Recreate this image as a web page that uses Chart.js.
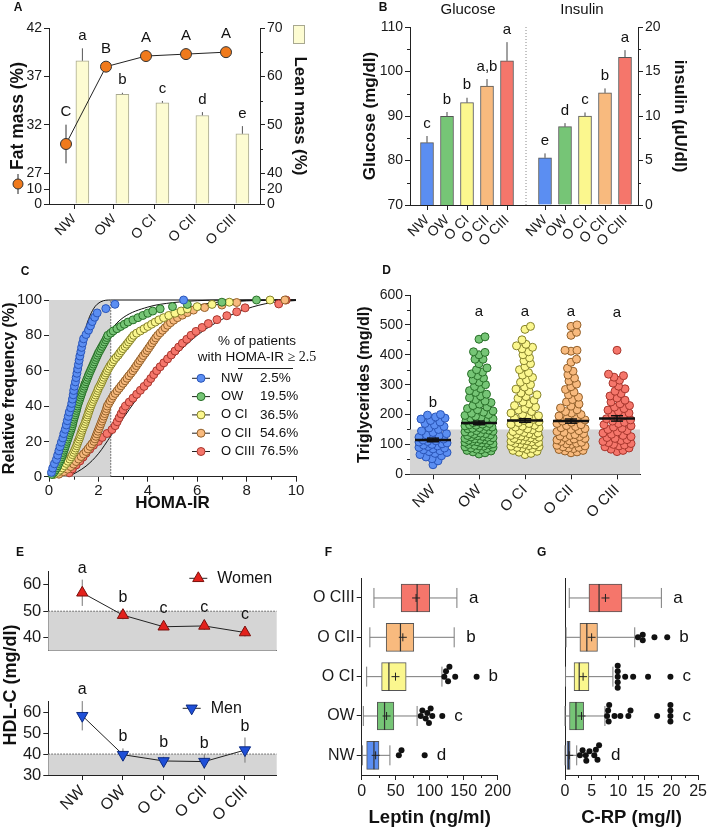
<!DOCTYPE html>
<html>
<head>
<meta charset="utf-8">
<script src="https://cdn.jsdelivr.net/npm/chart.js@4.4.1/dist/chart.umd.min.js"></script>
<style>
  body { margin: 0; background: #fff; width: 709px; height: 830px; position: relative; overflow: hidden; }
  canvas { position: absolute; }
</style>
</head>
<body>
<canvas id="cA"></canvas><canvas id="cB"></canvas><canvas id="cC"></canvas><canvas id="cD"></canvas>
<canvas id="cE1"></canvas><canvas id="cE2"></canvas><canvas id="cF"></canvas><canvas id="cG"></canvas>
<script>
const groups = ['NW', 'OW', 'O CI', 'O CII', 'O CIII'];

// A - body composition
const fatMass = [30.0, 38.0, 39.1, 39.3, 39.5];
const fatMassErr = [2.0, 0.3, 0.3, 0.3, 0.3];
const fatMassLetters = ['C', 'B', 'A', 'A', 'A'];
const leanMass = [63.2, 56.3, 54.5, 51.9, 48.1];
const leanMassErr = [2.6, 0.3, 0.4, 0.7, 1.6];
const leanMassLetters = ['a', 'b', 'c', 'd', 'e'];
const fatTicks = [0, 10, 27, 32, 37, 42];
const leanTicks = [0, 20, 40, 50, 60, 70];

// B - glucose / insulin
const glucose = [84.0, 89.9, 93.0, 96.7, 102.4];
const glucoseErr = [1.5, 1.0, 1.1, 1.6, 4.2];
const glucoseLetters = ['c', 'b', 'b', 'a,b', 'a'];
const insulin = [5.3, 8.8, 10.0, 12.6, 16.6];
const insulinErr = [0.5, 0.4, 0.4, 0.5, 0.8];
const insulinLetters = ['e', 'd', 'c', 'b', 'a'];

// C - HOMA-IR, sorted values per group
const homaNW = [0.1,0.15,0.22,0.3,0.35,0.4,0.45,0.5,0.56,0.6,0.66,0.7,0.74,0.78,0.82,0.88,0.92,0.95,0.98,1.0,1.03,1.07,1.1,1.13,1.16,1.19,1.22,1.25,1.29,1.32,1.36,1.4,1.5,1.6,1.68,1.75,1.85,1.95,2.3,2.67,5.45];
const homaOW = [0.12,0.2,0.26,0.32,0.36,0.4,0.44,0.48,0.52,0.55,0.58,0.61,0.64,0.67,0.7,0.73,0.76,0.79,0.82,0.85,0.88,0.91,0.94,0.96,0.98,1.0,1.03,1.06,1.08,1.11,1.13,1.15,1.18,1.21,1.24,1.27,1.3,1.33,1.36,1.4,1.43,1.46,1.5,1.53,1.57,1.6,1.64,1.68,1.72,1.76,1.8,1.84,1.88,1.92,1.96,2.0,2.05,2.1,2.15,2.2,2.25,2.3,2.34,2.38,2.5,2.6,2.75,2.9,3.05,3.2,3.4,3.6,3.8,4.0,4.2,4.5,5.0,5.6,7.0,8.4];
const homaOCI = [0.2,0.35,0.45,0.54,0.62,0.7,0.77,0.84,0.9,0.95,1.0,1.04,1.08,1.12,1.15,1.18,1.22,1.25,1.28,1.31,1.34,1.37,1.41,1.45,1.48,1.51,1.54,1.57,1.6,1.63,1.66,1.69,1.73,1.77,1.81,1.85,1.89,1.93,1.97,2.0,2.05,2.1,2.14,2.18,2.22,2.27,2.31,2.36,2.41,2.46,2.52,2.58,2.64,2.72,2.8,2.86,2.93,3.0,3.08,3.15,3.22,3.29,3.36,3.43,3.55,3.7,3.85,4.0,4.15,4.3,4.45,4.64,4.85,5.1,5.35,5.6,6.0,6.6,7.3,8.95];
const homaOCII = [0.4,0.6,0.75,0.88,1.0,1.1,1.2,1.3,1.4,1.5,1.58,1.66,1.74,1.82,1.86,1.9,1.94,1.98,2.02,2.06,2.1,2.14,2.18,2.22,2.26,2.3,2.33,2.36,2.42,2.48,2.54,2.6,2.68,2.76,2.84,2.92,3.0,3.08,3.16,3.24,3.32,3.4,3.47,3.54,3.61,3.68,3.75,3.82,3.9,3.97,4.04,4.11,4.18,4.25,4.32,4.4,4.5,4.6,4.7,4.8,4.92,5.05,5.2,5.4,5.6,5.85,6.3,7.0,7.6,9.55];
const homaOCIII = [0.82,0.95,1.1,1.25,1.38,1.5,1.65,1.8,2.0,2.15,2.35,2.55,2.68,2.76,2.84,2.92,3.0,3.1,3.25,3.4,3.55,3.7,3.85,4.0,4.12,4.24,4.36,4.5,4.65,4.8,4.95,5.1,5.25,5.4,5.58,5.75,5.95,6.2,6.45,6.8,7.2,7.6,7.94,9.3,9.6];
const fitNW = [[0,0],[0.3,8],[0.6,25],[0.9,45],[1.2,68],[1.5,85],[1.8,95],[2.1,99],[2.5,100],[10,100]];
const fitOW = [[0,0],[0.5,10],[1,33],[1.5,55],[2,72],[2.5,83],[3,90],[4,96],[5,98.5],[6,99.6],[7,100],[10,100]];
const fitOCI = [[0,0],[0.5,5],[1,17],[1.5,33],[2,50],[2.5,63],[3,73],[4,86],[5,93],[6,97],[7,99],[8,99.8],[10,100]];
const fitOCII = [[0,0],[1,6],[1.5,14],[2,27],[2.5,40],[3,52],[3.5,63],[4,72],[5,86],[6,94],[7,98],[8,99.5],[10,100]];
const fitOCIII = [[0.8,0],[1.5,6],[2,13],[2.5,23],[3,33],[3.5,43],[4,52],[5,67],[6,80],[7,89],[8,95],[9,98.5],[10,99.7]];
const homaCut = 2.5;
const homaPct = ['2.5%', '19.5%', '36.5%', '54.6%', '76.5%'];

// D - triglycerides
const trigNW = [32,45,52,58,62,66,70,73,76,79,82,85,88,90,93,95,98,100,102,105,108,110,112,115,118,120,124,128,132,136,140,145,150,155,160,165,170,175,180,185,188,192,198,200];
const trigOW = [68,72,75,78,80,82,84,86,88,90,92,94,95,97,99,100,102,104,105,107,109,110,112,114,115,117,119,120,122,124,125,127,129,130,132,134,136,138,140,142,144,146,148,150,152,154,156,158,160,162,164,166,168,170,173,176,179,182,185,188,191,194,197,200,204,208,212,216,220,225,230,235,240,245,250,256,262,268,274,280,287,294,300,308,315,322,330,336,342,350,356,370,385,385,400,408,410,452,460];
const trigOCI = [66,70,74,77,80,83,86,88,90,92,94,96,98,100,102,104,106,108,110,112,114,116,118,120,122,124,126,128,130,132,134,136,138,140,143,146,149,152,155,158,161,164,167,170,173,176,180,184,188,192,196,200,205,210,215,220,225,230,236,242,248,254,260,266,272,278,285,292,300,308,316,324,332,340,350,360,370,380,390,400,410,420,425,430,435,450,485,495];
const trigOCII = [72,75,78,80,83,86,88,90,92,95,97,100,102,104,107,110,112,115,118,120,123,126,128,130,133,136,140,143,146,150,153,156,160,163,166,170,174,178,182,186,190,195,200,205,210,216,222,228,235,242,250,258,266,275,284,293,302,312,322,332,345,355,375,385,412,415,415,465,475,495,500];
const trigOCIII = [76,80,84,88,92,95,98,100,103,106,110,113,116,120,123,126,130,134,138,142,146,150,154,158,162,166,170,174,178,182,186,190,195,200,205,210,215,220,225,230,236,242,248,255,262,270,278,286,295,305,315,325,330,335,415];
const trigMean = [115, 172, 180, 178, 187];
const trigSem = [6, 6, 6, 7, 9];
const trigLetters = ['b', 'a', 'a', 'a', 'a'];
const trigCut = 150;

// E - HDL-C
const hdlWomen = [57.0, 48.5, 44.1, 44.4, 41.9];
const hdlWomenErr = [5.0, 1.6, 1.2, 1.5, 1.5];
const hdlWomenLetters = ['a', 'b', 'c', 'c', 'c'];
const hdlMen = [58.3, 39.7, 36.7, 36.4, 41.9];
const hdlMenErr = [7.0, 3.0, 2.0, 3.5, 6.0];
const hdlMenLetters = ['a', 'b', 'b', 'b', 'b'];
const womenCut = 50, menCut = 40;

// F - leptin box plots (NW .. O CIII)
const leptinMin = [1, 2.4, 7.3, 12, 18];
const leptinQ1 = [7.3, 23, 29.3, 36, 58];
const leptinMed = [18, 33.6, 40, 57, 81.5];
const leptinQ3 = [25.4, 47.3, 65.4, 76.6, 100];
const leptinMax = [41.5, 81.5, 118, 136, 140];
const leptinMean = [20.5, 36.6, 49.7, 60.5, 80];
const leptinOut = [[54.6, 58.5, 92.6], [86.8, 89.2, 94.1, 96.5, 98.9, 101.4, 103.8, 118.5], [121.5, 124, 127, 129, 137.5, 169], [], []];
const leptinLetters = ['d', 'c', 'b', 'b', 'a'];

// G - C-RP box plots
const crpMin = [0, 0, 0.1, 0.2, 0.8];
const crpQ1 = [0.36, 0.85, 1.7, 2.8, 4.5];
const crpMed = [0.67, 2.06, 2.67, 4.1, 6.4];
const crpQ3 = [0.97, 3.5, 4.5, 6.1, 10.7];
const crpMax = [2.2, 7.5, 9.0, 13.1, 18.1];
const crpMean = [0.8, 3.1, 3.4, 5.0, 7.6];
const crpOut = [[2.8, 3.3, 3.9, 4.0, 4.6, 5.5, 5.8, 6.1, 6.4], [7.9, 8.1, 8.2, 8.3, 9.3, 10.4, 11.9, 12.3, 17.3, 19.8, 19.8, 19.8, 19.8], [9.9, 9.9, 9.9, 9.9, 9.9, 11.3, 12.8, 15.6, 19.8], [13.7, 14.6, 14.6, 16.8, 19.2], []];
const crpLetters = ['d', 'c', 'c', 'b', 'a'];

// ---------- styling / helpers ----------
const fill = ['#5b8ef2', '#76c576', '#fbf78e', '#f8ba7e', '#f5766b'];
const edge = ['#2a55b8', '#286f28', '#85812a', '#93602a', '#a8362d'];
const FONT = '"Liberation Sans", Arial, Helvetica, sans-serif';
Chart.defaults.font.family = FONT;
Chart.defaults.color = '#1a1a1a';

// y axis with a gap (broken axis) for panel A
class BrokenScale extends Chart.LinearScale {
  getPixelForValue(v) {
    const b = this.options.brk;
    const lowTop = this.bottom - b.lowPx, highBot = lowTop - b.gapPx;
    if (v <= b.low) return this.bottom - v / b.low * b.lowPx;
    if (v >= b.high) return highBot - (v - b.high) / (this.max - b.high) * (highBot - this.top);
    return lowTop - (v - b.low) / (b.high - b.low) * b.gapPx;
  }
  getValueForPixel(p) {
    const b = this.options.brk;
    const lowTop = this.bottom - b.lowPx, highBot = lowTop - b.gapPx;
    if (p >= lowTop) return (this.bottom - p) / b.lowPx * b.low;
    if (p <= highBot) return b.high + (highBot - p) / (highBot - this.top) * (this.max - b.high);
    return b.low + (lowTop - p) / b.gapPx * (b.high - b.low);
  }
}
BrokenScale.id = 'broken';
BrokenScale.defaults = Chart.LinearScale.defaults;
Chart.register(BrokenScale);

function place(id, l, t, w, h) {
  const c = document.getElementById(id);
  c.width = w; c.height = h;
  c.style.left = l + 'px'; c.style.top = t + 'px';
  return c;
}
const grid = { display: true, drawOnChartArea: false, drawTicks: true, tickLength: 5, tickColor: '#222', tickWidth: 1, offset: false };
const noTickGrid = Object.assign({}, grid, { drawTicks: false });
const border = { display: true, color: '#222', width: 1 };
const ticks = (size, extra) => Object.assign({ color: '#1a1a1a', font: { size }, padding: 2 }, extra || {});
const catTicks = (size, labels) => ticks(size, { autoSkip: false, maxRotation: 45, minRotation: 45, callback: (v, i) => labels[i] });
const fixSize = px => s => { if (s.isHorizontal()) s.height = px; else s.width = px; };
const tickAt = vals => s => { s.ticks = vals.map(v => ({ value: v })); };
const title = (text, size, pad) => ({ display: true, text, color: '#111', font: { size, weight: 'bold' }, padding: { top: pad, bottom: pad } });

function opts(padding, scales) {
  return {
    responsive: false, animation: false, events: [],
    layout: { padding, autoPadding: false },
    plugins: { legend: { display: false }, tooltip: { enabled: false } },
    scales
  };
}

function txt(ctx, s, x, y, size, o = {}) {
  ctx.save();
  ctx.font = (o.bold ? 'bold ' : '') + size + 'px ' + (o.family || FONT);
  ctx.fillStyle = o.color || '#111';
  ctx.textAlign = o.align || 'center';
  ctx.textBaseline = o.base || 'middle';
  if (o.rot) { ctx.translate(x, y); ctx.rotate(o.rot); ctx.fillText(s, 0, 0); }
  else ctx.fillText(s, x, y);
  ctx.restore();
}
function line(ctx, x1, y1, x2, y2, color = '#222', w = 1, dash) {
  ctx.save();
  ctx.strokeStyle = color; ctx.lineWidth = w;
  if (dash) ctx.setLineDash(dash);
  ctx.beginPath(); ctx.moveTo(x1, y1); ctx.lineTo(x2, y2); ctx.stroke();
  ctx.restore();
}
function errBars(c, di, errs, both, color) {
  const meta = c.getDatasetMeta(di), ds = c.data.datasets[di], ys = c.scales[meta.yAxisID];
  meta.data.forEach((el, i) => {
    const v = ds.data[i].y;
    const top = ys.getPixelForValue(v + errs[i]);
    const bot = both ? ys.getPixelForValue(v - errs[i]) : el.y;
    line(c.ctx, el.x, top, el.x, bot, color);
  });
}
function letters(c, di, errs, labels, size, gap, markR) {
  const meta = c.getDatasetMeta(di), ds = c.data.datasets[di], ys = c.scales[meta.yAxisID];
  meta.data.forEach((el, i) => {
    const top = Math.min(ys.getPixelForValue(ds.data[i].y + errs[i]), el.y - markR) - gap;
    txt(c.ctx, labels[i], el.x, top, size, { base: 'bottom' });
  });
}
const minor = specs => ({
  id: 'minor',
  afterDraw(c) {
    specs.forEach(([id, step, from, to]) => {
      const s = c.scales[id];
      const lo = from !== undefined ? from : s.min, hi = to !== undefined ? to : s.max;
      for (let k = Math.ceil(lo / step - 1e-9); k * step <= hi + 1e-9; k++) {
        const v = k * step;
        if (s.ticks.some(t => Math.abs(t.value - v) < 1e-6)) continue;
        const p = Math.round(s.getPixelForValue(v)) + 0.5;
        if (s.isHorizontal()) line(c.ctx, p, s.top, p, s.top + 3);
        else if (s.position === 'left') line(c.ctx, s.right, p, s.right - 3, p);
        else line(c.ctx, s.left, p, s.left + 3, p);
      }
    });
  }
});
const tag = (s, x, y) => ({ id: 'tag', afterDraw(c) { txt(c.ctx, s, x, y, 12, { bold: true }); } });

// spread overlapping points sideways (layout only, values untouched)
function swarmOffsets(vals, pxPerVal, minDist, maxHalf) {
  const placed = [];
  return vals.map(v => {
    const y = v * pxPerVal;
    let best = 0, bestGap = -1, found = false;
    for (let s = 0; s <= maxHalf && !found; s += 0.5) {
      for (const x of (s === 0 ? [0] : [s, -s])) {
        let gap = Infinity;
        for (const p of placed) {
          if (Math.abs(p.y - y) < minDist) gap = Math.min(gap, Math.hypot(p.x - x, p.y - y));
        }
        if (gap >= minDist) { best = x; found = true; break; }
        if (gap > bestGap) { bestGap = gap; best = x; }
      }
    }
    placed.push({ x: best, y });
    return best;
  });
}

// ---------- A ----------
const A_LINE_SHIFT = -0.2, A_BAR_SHIFT = 0.21;
new Chart(place('cA', 0, 0, 330, 245), {
  type: 'scatter',
  data: { datasets: [
    { type: 'line', yAxisID: 'yL', order: 0, clip: false,
      data: fatMass.map((v, i) => ({ x: i + A_LINE_SHIFT, y: v })),
      borderColor: '#222', borderWidth: 1, pointRadius: 5.5,
      pointBackgroundColor: '#f07a1c', pointBorderColor: '#333', pointBorderWidth: 1 },
    { type: 'bar', yAxisID: 'yR', order: 1, grouped: false,
      data: leanMass.map((v, i) => ({ x: i + A_BAR_SHIFT, y: v })),
      backgroundColor: '#fdfcd2', borderColor: '#a8a890', borderWidth: 1, barThickness: 13 }
  ] },
  options: opts({ top: 28, left: 0, right: 0, bottom: 0 }, {
    x: { type: 'linear', min: -0.625, max: 4.65, offset: false, afterBuildTicks: tickAt([0, 1, 2, 3, 4]),
         afterFit: fixSize(41), grid, border, ticks: catTicks(14, groups) },
    yL: { type: 'broken', position: 'left', min: 0, max: 42, brk: { low: 10, high: 27, lowPx: 15, gapPx: 16 },
          afterBuildTicks: tickAt(fatTicks), afterFit: fixSize(49), grid, border, ticks: ticks(14),
          title: title('Fat mass (%)', 17.5, 7.5) },
    yR: { type: 'broken', position: 'right', min: 0, max: 70, brk: { low: 20, high: 40, lowPx: 15, gapPx: 16 },
          afterBuildTicks: tickAt(leanTicks), afterFit: fixSize(70), grid, border, ticks: ticks(14),
          title: title('Lean mass (%)', 17, 19.8) }
  }),
  plugins: [minor([['yR', 5, 40, 70]]), tag('A', 18, 8), {
    id: 'aExtra',
    beforeDatasetsDraw(c) {
      errBars(c, 0, fatMassErr, true, '#333');
      errBars(c, 1, leanMassErr, false, '#555');
    },
    afterDatasetsDraw(c) {
      letters(c, 0, fatMassErr, fatMassLetters, 15, 5, 5.5);
      letters(c, 1, leanMassErr, leanMassLetters, 15, 5, 0);
    },
    afterDraw(c) {
      const ctx = c.ctx;
      ctx.save();
      ctx.fillStyle = '#fdfcd2'; ctx.strokeStyle = '#a8a890';
      ctx.fillRect(293, 25, 11, 18); ctx.strokeRect(293.5, 25.5, 11, 18);
      line(ctx, 18, 174, 18, 194, '#222');
      ctx.beginPath(); ctx.arc(18, 184, 5, 0, Math.PI * 2);
      ctx.fillStyle = '#f07a1c'; ctx.fill(); ctx.strokeStyle = '#333'; ctx.stroke();
      ctx.restore();
    }
  }]
});

// ---------- B ----------
const B_INS_START = 5.9;
const bPositions = groups.map((g, i) => i).concat(groups.map((g, i) => B_INS_START + i));
new Chart(place('cB', 340, 0, 369, 245), {
  type: 'scatter',
  data: { datasets: [
    { type: 'bar', yAxisID: 'yL', grouped: false, data: glucose.map((v, i) => ({ x: i, y: v })),
      backgroundColor: fill, borderColor: '#555', borderWidth: 1, barThickness: 13 },
    { type: 'bar', yAxisID: 'yR', grouped: false, data: insulin.map((v, i) => ({ x: B_INS_START + i, y: v })),
      backgroundColor: fill, borderColor: '#555', borderWidth: 1, barThickness: 13 }
  ] },
  options: opts({ top: 27, left: 0, right: 0, bottom: 0 }, {
    x: { type: 'linear', min: -0.85, max: 10.55, offset: false, afterBuildTicks: tickAt(bPositions),
         afterFit: fixSize(40), grid, border, ticks: catTicks(14, groups.concat(groups)) },
    yL: { type: 'linear', position: 'left', min: 70, max: 110, afterBuildTicks: tickAt([70, 80, 90, 100, 110]),
          afterFit: fixSize(70), grid, border, ticks: ticks(14), title: title('Glucose (mg/dl)', 17, 19.8) },
    yR: { type: 'linear', position: 'right', min: 0, max: 20, afterBuildTicks: tickAt([0, 5, 10, 15, 20]),
          afterFit: fixSize(71), grid, border, ticks: ticks(14), title: title('insulin (µU/dl)', 17, 18.8) }
  }),
  plugins: [minor([['yL', 5], ['yR', 2.5]]), tag('B', 43, 8), {
    id: 'bExtra',
    beforeDatasetsDraw(c) {
      errBars(c, 0, glucoseErr, false, '#444');
      errBars(c, 1, insulinErr, false, '#444');
    },
    afterDatasetsDraw(c) {
      letters(c, 0, glucoseErr, glucoseLetters, 15, 5, 0);
      letters(c, 1, insulinErr, insulinLetters, 15, 5, 0);
    },
    afterDraw(c) {
      const xs = c.scales.x, a = c.chartArea;
      const sep = (xs.getPixelForValue(glucose.length - 1) + xs.getPixelForValue(B_INS_START)) / 2;
      line(c.ctx, sep, a.top, sep, a.bottom, '#888', 1, [1, 2]);
      txt(c.ctx, 'Glucose', (a.left + sep) / 2, 10, 15);
      txt(c.ctx, 'Insulin', (sep + a.right) / 2, 10, 15);
    }
  }]
});

// ---------- C ----------
const homa = [homaNW, homaOW, homaOCI, homaOCII, homaOCIII];
const fits = [fitNW, fitOW, fitOCI, fitOCII, fitOCIII];
new Chart(place('cC', 0, 250, 345, 270), {
  type: 'scatter',
  data: { datasets: homa.map((vals, k) => ({
      type: 'scatter', order: 0, clip: false,
      data: vals.map((v, i) => ({ x: v, y: (i + 1) / vals.length * 100 })),
      pointRadius: 4, backgroundColor: fill[k], borderColor: edge[k], borderWidth: 1
    })).concat(fits.map(f => ({
      type: 'line', order: 1, clip: false, data: f.map(([x, y]) => ({ x, y })),
      borderColor: '#111', borderWidth: 1, pointRadius: 0, cubicInterpolationMode: 'monotone', fill: false
    }))) },
  options: opts({ top: 50, left: 0, right: 49, bottom: 0 }, {
    x: { type: 'linear', min: 0, max: 10, offset: false, afterFit: fixSize(43.3), grid, border,
         ticks: ticks(15, { stepSize: 2, padding: 0 }), title: title('HOMA-IR', 17, 6.8) },
    y: { type: 'linear', min: 0, max: 100, afterFit: fixSize(49), grid, border,
         ticks: ticks(15, { stepSize: 20 }), title: title('Relative frequency (%)', 16, 0) }
  }),
  plugins: [minor([['x', 1]]), tag('C', 25, 22), {
    id: 'cExtra',
    beforeDatasetsDraw(c) {
      const xs = c.scales.x, ys = c.scales.y, ctx = c.ctx;
      const x0 = xs.getPixelForValue(0), x1 = xs.getPixelForValue(homaCut);
      const y0 = ys.getPixelForValue(0), y1 = ys.getPixelForValue(100);
      ctx.save(); ctx.fillStyle = '#d5d5d5'; ctx.fillRect(x0, y1, x1 - x0, y0 - y1); ctx.restore();
      line(ctx, x1, y0, x1, y1, '#555', 1, [1.5, 1.5]);
    },
    afterDraw(c) {
      const ctx = c.ctx;
      txt(ctx, '% of patients', 257, 91, 13.5);
      ctx.save();
      ctx.font = '13.5px ' + FONT;
      const w1 = ctx.measureText('with HOMA-IR ').width;
      ctx.font = '14px "Liberation Serif", "Times New Roman", serif';
      const w2 = ctx.measureText('≥ 2.5').width;
      ctx.restore();
      const sx = 257 - (w1 + w2) / 2;
      txt(ctx, 'with HOMA-IR ', sx, 107, 13.5, { align: 'left' });
      txt(ctx, '≥ 2.5', sx + w1, 107, 14, { align: 'left', family: '"Liberation Serif", "Times New Roman", serif' });
      line(ctx, 238, 118.5, 293, 118.5, '#222');
      groups.forEach((g, k) => {
        const y = 128.3 + k * 18.3;
        line(ctx, 192, y, 210, y, '#222');
        ctx.save(); ctx.beginPath(); ctx.arc(201, y, 4, 0, Math.PI * 2);
        ctx.fillStyle = fill[k]; ctx.fill(); ctx.strokeStyle = edge[k]; ctx.lineWidth = 1; ctx.stroke(); ctx.restore();
        txt(ctx, g, 221, y, 13, { align: 'left' });
        txt(ctx, homaPct[k], 260, y, 13.5, { align: 'left' });
      });
    }
  }]
});

// ---------- D ----------
const trig = [trigNW, trigOW, trigOCI, trigOCII, trigOCIII];
const D_PX_PER_CAT = 46, D_PX_PER_MG = 179.3 / 600;
const trigLetterAt = [240, 545, 545, 545, 540];
new Chart(place('cD', 340, 250, 369, 290), {
  type: 'scatter',
  data: { datasets: trig.map((vals, k) => {
    const offs = swarmOffsets(vals, D_PX_PER_MG, 6, 14);
    return { type: 'scatter', clip: false, data: vals.map((v, i) => ({ x: k + offs[i] / D_PX_PER_CAT, y: v })),
      pointRadius: 4, backgroundColor: fill[k], borderColor: edge[k], borderWidth: 1 };
  }) },
  options: opts({ top: 45, left: 0, right: 69, bottom: 0 }, {
    x: { type: 'linear', min: -0.5, max: 4.5, offset: false, afterBuildTicks: tickAt([0, 1, 2, 3, 4]),
         afterFit: fixSize(65.7), grid, border, ticks: catTicks(15, groups) },
    y: { type: 'linear', min: 0, max: 600, afterFit: fixSize(70), grid, border,
         ticks: ticks(14, { stepSize: 100 }), title: title('Triglycerides (mg/dl)', 16, 15.4) }
  }),
  plugins: [minor([['y', 50]]), tag('D', 46.7, 20.7), {
    id: 'dExtra',
    beforeDatasetsDraw(c) {
      const ys = c.scales.y, a = c.chartArea;
      const top = ys.getPixelForValue(trigCut);
      c.ctx.save(); c.ctx.fillStyle = '#d5d5d5'; c.ctx.fillRect(a.left, top, a.right - a.left, a.bottom - top); c.ctx.restore();
    },
    afterDatasetsDraw(c) {
      const xs = c.scales.x, ys = c.scales.y, ctx = c.ctx;
      trigMean.forEach((m, i) => {
        const x = xs.getPixelForValue(i), y = ys.getPixelForValue(m);
        const t = ys.getPixelForValue(m + trigSem[i]), b = ys.getPixelForValue(m - trigSem[i]);
        line(ctx, x - 18, y, x + 18, y, '#111', 2.5);
        line(ctx, x, t, x, b, '#111', 1.5);
        line(ctx, x - 6, t, x + 6, t, '#111', 1.5);
        line(ctx, x - 6, b, x + 6, b, '#111', 1.5);
        txt(ctx, trigLetters[i], x, ys.getPixelForValue(trigLetterAt[i]), 15);
      });
    }
  }]
});

// ---------- E ----------
function hdlChart(id, top, h, vals, errs, labs, cut, yMin, yTicks, color, edgeColor, rot, bottomH, showCats, legendText, legendY, extra) {
  return new Chart(place(id, 0, top, 290, h), {
    type: 'scatter',
    data: { datasets: [{
      type: 'line', clip: false, data: vals.map((v, i) => ({ x: i, y: v })),
      borderColor: '#222', borderWidth: 1, pointStyle: 'triangle', pointRotation: rot, pointRadius: 6.5,
      pointBackgroundColor: color, pointBorderColor: edgeColor, pointBorderWidth: 1
    }] },
    options: opts({ top: legendY - 6.6, left: 0, right: 13.3, bottom: 0 }, {
      x: { type: 'linear', min: -0.835, max: 4.78, offset: false, afterBuildTicks: tickAt([0, 1, 2, 3, 4]),
           afterFit: fixSize(bottomH), grid: showCats ? grid : noTickGrid, border,
           ticks: showCats ? catTicks(16, groups) : { display: false } },
      y: { type: 'linear', min: yMin, max: 65, afterBuildTicks: tickAt(yTicks), afterFit: fixSize(48.3),
           grid, border, ticks: ticks(16.5) }
    }),
    plugins: [{
      id: 'eExtra',
      beforeDatasetsDraw(c) {
        const ys = c.scales.y, a = c.chartArea, ctx = c.ctx;
        const yc = ys.getPixelForValue(cut);
        ctx.save(); ctx.fillStyle = '#d5d5d5'; ctx.fillRect(a.left, yc, a.right - a.left, a.bottom - yc); ctx.restore();
        line(ctx, a.left, yc, a.right, yc, '#555', 1, [1.5, 1.5]);
        errBars(c, 0, errs, true, '#777');
      },
      afterDatasetsDraw(c) {
        letters(c, 0, errs, labs, 16, 3, 7);
        const ctx = c.ctx, lx = legendText === 'Women' ? 198.3 : 191.7;
        line(ctx, lx - 9, legendY, lx + 9, legendY, '#222');
        ctx.save(); ctx.translate(lx, legendY); ctx.rotate(rot * Math.PI / 180);
        ctx.beginPath(); ctx.moveTo(0, -6.5); ctx.lineTo(5.6, 3.25); ctx.lineTo(-5.6, 3.25); ctx.closePath();
        ctx.fillStyle = color; ctx.fill(); ctx.strokeStyle = edgeColor; ctx.stroke(); ctx.restore();
        txt(ctx, legendText, lx + 19, legendY, 16, { align: 'left' });
        if (extra) extra(c);
      }
    }]
  });
}
hdlChart('cE1', 540, 290, hdlWomen, hdlWomenErr, hdlWomenLetters, womenCut, 35, [40, 50, 60],
  '#e3211c', '#7a100c', 0, 179.3, false, 'Women', 38.3, c => {
    txt(c.ctx, 'E', 20, 13, 12, { bold: true });
    txt(c.ctx, 'HDL-C (mg/dl)', 11, 145, 18, { bold: true, rot: -Math.PI / 2 });
  });
hdlChart('cE2', 665, 165, hdlMen, hdlMenErr, hdlMenLetters, menCut, 30, [30, 40, 50, 60],
  '#1e4fd8', '#0c2a80', 180, 55, true, 'Men', 43.3, null);

// ---------- F / G ----------
const ROW_PX = 196.7 / 5;
function boxPanel(o) {
  const pts = [];
  o.out.forEach((vals, i) => {
    const sorted = vals.slice().sort((a, b) => a - b);
    const offs = swarmOffsets(sorted, o.pxPerUnit, 5.5, 12);
    sorted.forEach((v, j) => pts.push({ x: v, y: i + offs[j] / ROW_PX }));
  });
  return new Chart(place(o.id, o.l, 540, o.w, 290), {
    type: 'scatter',
    data: { datasets: [
      { type: 'bar', indexAxis: 'y', grouped: false, order: 1,
        data: o.q1.map((q, i) => ({ y: i, x: [q, o.q3[i]] })),
        backgroundColor: fill, borderColor: '#555', borderWidth: 1, borderSkipped: false, barThickness: 28 },
      { type: 'scatter', order: 0, clip: false, data: pts, pointRadius: 3, backgroundColor: '#111', borderWidth: 0 }
    ] },
    options: opts({ top: 38.3, left: 0, right: o.padR, bottom: 0 }, {
      x: { type: 'linear', min: 0, max: o.max, offset: false, afterFit: fixSize(55), grid, border,
           ticks: ticks(16, { stepSize: o.step }), title: title(o.title, 18.5, 0.9) },
      y: { type: 'linear', min: -0.5, max: 4.5, offset: false, afterBuildTicks: tickAt([0, 1, 2, 3, 4]),
           afterFit: fixSize(o.yWidth), grid: o.showCats ? grid : noTickGrid, border,
           ticks: o.showCats ? ticks(16, { callback: (v, i) => groups[i] }) : { display: false } }
    }),
    plugins: [minor([['x', o.minorStep]]), tag(o.tag, o.tagX, 13), {
      id: 'box',
      beforeDatasetsDraw(c) {
        const xs = c.scales.x, ys = c.scales.y, ctx = c.ctx;
        o.q1.forEach((q, i) => {
          const y = ys.getPixelForValue(i);
          const a = xs.getPixelForValue(o.lo[i]), b = xs.getPixelForValue(q);
          const d = xs.getPixelForValue(o.q3[i]), e = xs.getPixelForValue(o.hi[i]);
          line(ctx, a, y, b, y, '#7a7a7a'); line(ctx, d, y, e, y, '#7a7a7a');
          line(ctx, a, y - 10, a, y + 10, '#7a7a7a'); line(ctx, e, y - 10, e, y + 10, '#7a7a7a');
        });
      },
      afterDatasetsDraw(c) {
        const xs = c.scales.x, ys = c.scales.y, ctx = c.ctx;
        o.q1.forEach((q, i) => {
          const y = ys.getPixelForValue(i);
          const m = xs.getPixelForValue(o.med[i]), mu = xs.getPixelForValue(o.mean[i]);
          line(ctx, m, y - 14, m, y + 14, '#333', 1.2);
          line(ctx, mu - 4, y, mu + 4, y, '#222'); line(ctx, mu, y - 4, mu, y + 4, '#222');
          const far = Math.max(o.hi[i], ...o.out[i]);
          txt(ctx, o.letters[i], xs.getPixelForValue(far) + 12, y, 17, { align: 'left' });
        });
      }
    }]
  });
}
boxPanel({ id: 'cF', l: 240, w: 275, padR: 17.3, yWidth: 121.7, max: 200, step: 50, minorStep: 25,
  title: 'Leptin (ng/ml)', showCats: true, pxPerUnit: 136 / 200, tag: 'F', tagX: 88.3,
  lo: leptinMin, q1: leptinQ1, med: leptinMed, q3: leptinQ3, hi: leptinMax, mean: leptinMean,
  out: leptinOut, letters: leptinLetters });
boxPanel({ id: 'cG', l: 480, w: 229, padR: 7, yWidth: 85, max: 25, step: 5, minorStep: 2.5,
  title: 'C-RP (mg/l)', showCats: false, pxPerUnit: 137 / 25, tag: 'G', tagX: 61.7,
  lo: crpMin, q1: crpQ1, med: crpMed, q3: crpQ3, hi: crpMax, mean: crpMean,
  out: crpOut, letters: crpLetters });
</script>
</body>
</html>
